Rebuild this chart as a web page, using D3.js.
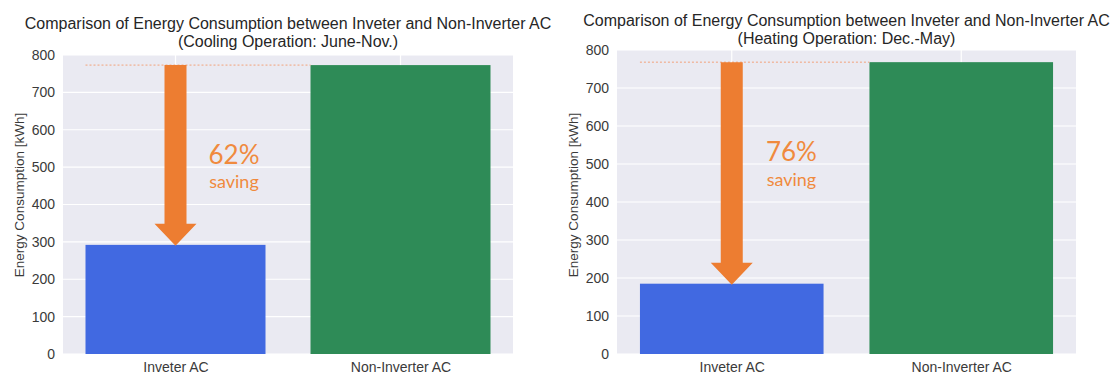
<!DOCTYPE html>
<html>
<head>
<meta charset="utf-8">
<script src="https://cdn.jsdelivr.net/npm/d3@7"></script>
<style>
  html, body { margin: 0; padding: 0; background: #ffffff; }
  svg { display: block; }
</style>
</head>
<body>
<svg id="chart" width="1118" height="374"></svg>
<script>
// ---- Data ----
const categories = ["Inveter AC", "Non-Inverter AC"];
const coolingValues = [292, 773];
const heatingValues = [185, 768];
const savingLabels = ["62%", "76%"];
const yTicks = [0, 100, 200, 300, 400, 500, 600, 700, 800];
const titleLine1 = "Comparison of Energy Consumption between Inveter and Non-Inverter AC";
const subtitles = ["(Cooling Operation: June-Nov.)", "(Heating Operation: Dec.-May)"];
const yLabel = "Energy Consumption [kWh]";
const barColors = ["#4169E1", "#2E8B57"];

const svg = d3.select("#chart");
const orange = "#ED7D31";
const font = "'Liberation Sans', Arial, sans-serif";

const panels = [
  { values: coolingValues, saving: savingLabels[0], subtitle: subtitles[0],
    x0: 63, x1: 513, y0: 55, y1: 354, titleY: 29, ylabX: 20 },
  { values: heatingValues, saving: savingLabels[1], subtitle: subtitles[1],
    x0: 617, x1: 1076, y0: 50, y1: 354, titleY: 26, ylabX: 574 }
];

panels.forEach(p => {
  const g = svg.append("g");
  const xc = d3.scaleLinear().domain([-0.5, 1.5]).range([p.x0, p.x1]);
  const y = d3.scaleLinear().domain([0, 800]).range([p.y1, p.y0]);
  const bw = (xc(1) - xc(0)) * 0.8;

  g.append("rect").attr("x", p.x0).attr("y", p.y0)
    .attr("width", p.x1 - p.x0).attr("height", p.y1 - p.y0).attr("fill", "#EAEAF2");

  g.selectAll(".hg").data(yTicks).enter().append("line")
    .attr("x1", p.x0).attr("x2", p.x1)
    .attr("y1", d => y(d)).attr("y2", d => y(d))
    .attr("stroke", "#ffffff").attr("stroke-width", 1.2);
  g.selectAll(".vg").data(categories).enter().append("line")
    .attr("x1", (d, i) => xc(i)).attr("x2", (d, i) => xc(i))
    .attr("y1", p.y0).attr("y2", p.y1)
    .attr("stroke", "#ffffff").attr("stroke-width", 1.2);

  g.selectAll(".bar").data(p.values).enter().append("rect")
    .attr("x", (d, i) => xc(i) - bw / 2)
    .attr("y", d => y(d))
    .attr("width", bw)
    .attr("height", d => y(0) - y(d))
    .attr("fill", (d, i) => barColors[i]);

  g.append("line")
    .attr("x1", xc(0) - bw / 2).attr("x2", xc(1) - bw / 2)
    .attr("y1", y(p.values[1])).attr("y2", y(p.values[1]))
    .attr("stroke", "#F2A27A").attr("stroke-width", 1)
    .attr("stroke-dasharray", "2,2");

  const ax = xc(0);
  const yTop = y(p.values[1]);
  const yTip = y(p.values[0]) + 1;
  const sw = 11, hw = 21, hh = 22;
  const path = d3.path();
  path.moveTo(ax - sw, yTop);
  path.lineTo(ax + sw, yTop);
  path.lineTo(ax + sw, yTip - hh);
  path.lineTo(ax + hw, yTip - hh);
  path.lineTo(ax, yTip);
  path.lineTo(ax - hw, yTip - hh);
  path.lineTo(ax - sw, yTip - hh);
  path.closePath();
  g.append("path").attr("d", path.toString()).attr("fill", orange);

  g.append("text").attr("x", xc(0.26)).attr("y", y(508))
    .attr("text-anchor", "middle").attr("font-family", "Lato, 'Open Sans', sans-serif")
    .attr("font-size", 26).attr("fill", "#F08A3E").text(p.saving);
  g.append("text").attr("x", xc(0.26)).attr("y", y(443))
    .attr("text-anchor", "middle").attr("font-family", "Lato, 'Open Sans', sans-serif")
    .attr("font-size", 18).attr("fill", "#F08A3E").text("saving");

  const yAxis = d3.axisLeft(y).tickValues(yTicks).tickSize(0).tickPadding(8);
  const ya = g.append("g").attr("transform", `translate(${p.x0},0)`).call(yAxis);
  ya.select(".domain").remove();
  ya.selectAll("text").attr("font-family", font)
    .attr("font-size", 14).attr("fill", "#3a3a3a");

  const xAxis = d3.axisBottom(xc).tickValues([0, 1]).tickFormat(i => categories[i]).tickSize(0).tickPadding(8);
  const xa = g.append("g").attr("transform", `translate(0,${p.y1})`).call(xAxis);
  xa.select(".domain").remove();
  xa.selectAll("text").attr("font-family", font)
    .attr("font-size", 14).attr("fill", "#3a3a3a");

  g.append("text")
    .attr("transform", `translate(${p.ylabX + 4},195) rotate(-90)`)
    .attr("text-anchor", "middle")
    .attr("font-family", font)
    .attr("font-size", 13.5).attr("fill", "#3a3a3a").text(yLabel);

  const cx = (p.x0 + p.x1) / 2;
  g.append("text").attr("x", cx).attr("y", p.titleY)
    .attr("text-anchor", "middle")
    .attr("font-family", font)
    .attr("font-size", 16).attr("fill", "#262626").text(titleLine1);
  g.append("text").attr("x", cx).attr("y", p.titleY + 18)
    .attr("text-anchor", "middle")
    .attr("font-family", font)
    .attr("font-size", 16).attr("fill", "#262626").text(p.subtitle);
});
</script>
</body>
</html>
